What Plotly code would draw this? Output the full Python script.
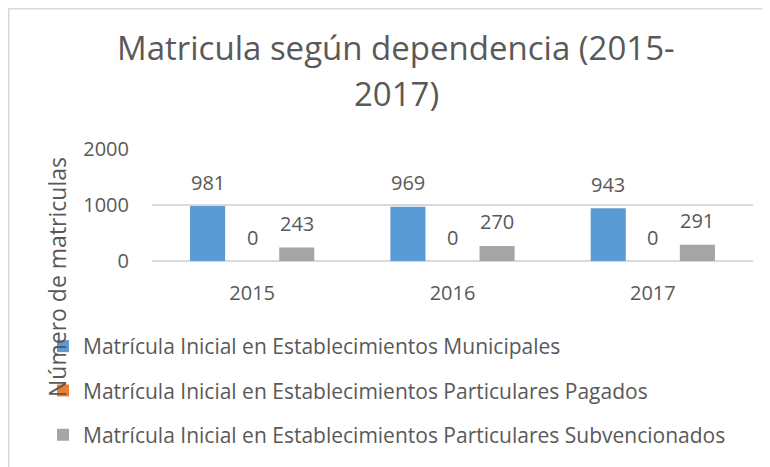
import plotly.graph_objects as go

years = ["2015", "2016", "2017"]
series_names = [
    "Matrícula Inicial en Establecimientos Municipales",
    "Matrícula Inicial en Establecimientos Particulares Pagados",
    "Matrícula Inicial en Establecimientos Particulares Subvencionados",
]
municipales = [981, 969, 943]
pagados = [0, 0, 0]
subvencionados = [243, 270, 291]
colors = ["#5B9BD5", "#ED7D31", "#A5A5A5"]
y_ticks = [0, 1000, 2000]

title_lines = ["Matricula según dependencia (2015-", "2017)"]
y_title = "Número de matriculas"

FONT = "Open Sans, Noto Sans, sans-serif"
TXT = "#595959"

W, H = 770, 467
BODY = 8  # default page margin of the html body
ml, mr, mt, mb = 144, 25, 141, 214
pw, ph = W - ml - mr, H - mt - mb


def sx(px):
    """screen pixel x -> paper x"""
    return (px - BODY - ml) / pw


def sy(py):
    """screen pixel y -> paper y"""
    return 1 - (py - BODY - mt) / ph


fig = go.Figure()
all_vals = [municipales, pagados, subvencionados]
for i, (name, vals) in enumerate(zip(series_names, all_vals)):
    fig.add_trace(go.Bar(
        x=years, y=vals, name=name, marker=dict(color=colors[i], line=dict(width=0)),
        legendgroup=f"g{i}",
    ))

# data labels (x given as category index on the category axis)
offsets = [-44.5, 0, 44.5]
for i, vals in enumerate(all_vals):
    for j, v in enumerate(vals):
        fig.add_annotation(x=j, y=v, xref="x", yref="y", text=str(v), showarrow=False,
                           xanchor="center", yanchor="middle",
                           xshift=offsets[i], yshift=24, font=dict(family=FONT, size=20, color=TXT))

# title
for line, py in zip(title_lines, [48, 93]):
    fig.add_annotation(x=sx(396), y=sy(py), xref="paper", yref="paper",
                       text=line, showarrow=False, xanchor="center", yanchor="middle",
                       font=dict(family=FONT, size=33, color=TXT))

# y-axis title
fig.add_annotation(x=sx(57), y=sy(277), xref="paper", yref="paper",
                   text=y_title, textangle=-90, showarrow=False, xanchor="center", yanchor="middle",
                   font=dict(family=FONT, size=23, color=TXT))

# chart border (left and top edges visible)
fig.add_shape(type="rect", xref="paper", yref="paper",
              x0=sx(BODY + 0.75), x1=sx(800), y0=sy(500), y1=sy(BODY + 0.75),
              line=dict(color="#D9D9D9", width=1.5), layer="below")

fig.update_layout(
    width=W, height=H,
    margin=dict(l=ml, r=mr, t=mt, b=mb, autoexpand=False),
    paper_bgcolor="white", plot_bgcolor="white",
    barmode="group", bargap=0.3325, bargroupgap=0.213,
    font=dict(family=FONT, size=21, color=TXT),
    showlegend=True,
    legend=dict(
        x=sx(43), y=sy(326), xanchor="left", yanchor="top",
        orientation="v", tracegroupgap=14,
        font=dict(family=FONT, size=21, color=TXT),
        bgcolor="rgba(0,0,0,0)",
    ),
    xaxis=dict(type="category", range=[-0.5, len(years) - 0.5], showgrid=False, showline=False,
               ticks="", tickfont=dict(size=20, color=TXT), ticklabelstandoff=18),
    yaxis=dict(range=[0, 2000], tickvals=y_ticks, showgrid=True, gridcolor="#D9D9D9", gridwidth=1.5,
               zeroline=True, zerolinecolor="#D9D9D9", zerolinewidth=1.5,
               showline=False, ticks="", tickfont=dict(size=20, color=TXT), ticklabelstandoff=22),
)

fig.write_html("out.html")
